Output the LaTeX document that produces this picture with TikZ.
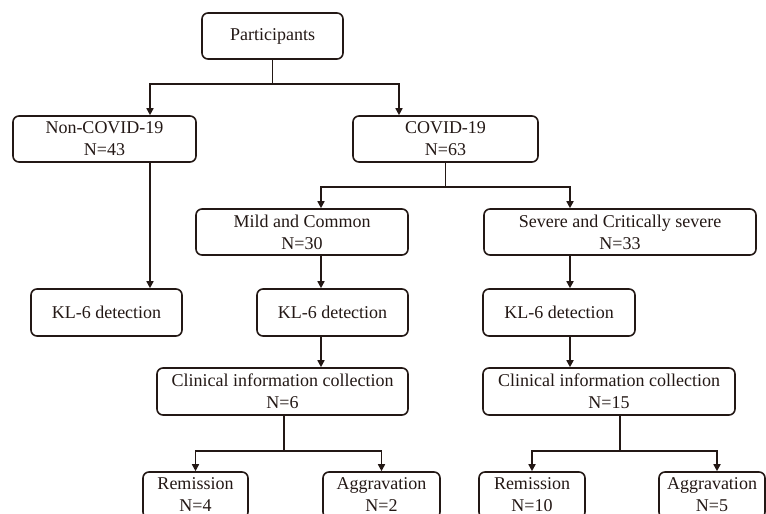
\documentclass[tikz,border=0pt]{standalone}
\usepackage{fontspec}
\setmainfont{Liberation Serif}
\usetikzlibrary{arrows.meta,positioning,calc}
\definecolor{ink}{RGB}{35,24,21}
\tikzset{
  box/.style={draw=ink, line width=1.6pt, rounded corners=6pt, fill=white,
    align=center, inner sep=0pt, minimum height=46pt, text=ink,
    font=\fontsize{18}{22}\selectfont},
  conn/.style={draw=ink, line width=1.6pt},
  arr/.style={conn, -{Triangle[length=7pt,width=7pt]}},
}
\begin{document}
\begin{tikzpicture}[x=1pt,y=-1pt]
\useasboundingbox (0,0) rectangle (766,514);
% nodes
\node[box, minimum width=141pt] (part) at (272.5,36) {Participants};
\node[box, minimum width=183pt] (noncov) at (104.5,139) {Non-COVID-19\\N=43};
\node[box, minimum width=185pt] (cov) at (445.5,139) {COVID-19\\N=63};
\node[box, minimum width=212pt] (mild) at (302,232) {Mild and Common\\N=30};
\node[box, minimum width=272pt] (severe) at (620,232) {Severe and Critically severe\\N=33};
\node[box, minimum width=151pt, minimum height=47pt] (kla) at (106.5,312.5) {KL-6 detection};
\node[box, minimum width=151pt, minimum height=47pt] (klb) at (332.5,312.5) {KL-6 detection};
\node[box, minimum width=152pt, minimum height=47pt] (klc) at (559,312.5) {KL-6 detection};
\node[box, minimum width=251pt, minimum height=47pt] (clina) at (282.5,391.5) {Clinical information collection\\N=6};
\node[box, minimum width=252pt, minimum height=47pt] (clinb) at (609,391.5) {Clinical information collection\\N=15};
\node[box, minimum width=105pt] (rema) at (195.5,495) {Remission\\N=4};
\node[box, minimum width=117pt] (agga) at (381.5,495) {Aggravation\\N=2};
\node[box, minimum width=106pt] (remb) at (532,495) {Remission\\N=10};
\node[box, minimum width=106pt] (aggb) at (712,495) {Aggravation\\N=5};
% junctions
\coordinate (j1) at ($(part.south)+(0,24)$);
\coordinate (j2) at ($(cov.south)+(0,24)$);
\coordinate (j3) at ($(clina.south)+(1.5,35)$);
\coordinate (j4) at ($(clinb.south)+(11,35)$);
\coordinate (a1) at ([xshift=45.5]noncov.south);
\coordinate (a2) at ([xshift=19]mild.south);
\coordinate (a3) at ([xshift=-50]severe.south);
% connectors
\draw[conn] (part.south) -- (j1);
\draw[arr] (j1) -| ([xshift=45.5]noncov.north);
\draw[arr] (j1) -| ([xshift=-46.5]cov.north);
\draw[arr] (a1) -- (a1 |- kla.north);
\draw[conn] (cov.south) -- (j2);
\draw[arr] (j2) -| (a2 |- mild.north);
\draw[arr] (j2) -| (a3 |- severe.north);
\draw[arr] (a2) -- (a2 |- klb.north);
\draw[arr] (a2 |- klb.south) -- (a2 |- clina.north);
\draw[arr] (a3) -- (a3 |- klc.north);
\draw[arr] (a3 |- klc.south) -- (a3 |- clinb.north);
\draw[conn] (j3 |- clina.south) -- (j3);
\draw[arr] (j3) -| (rema.north);
\draw[arr] (j3) -| (agga.north);
\draw[conn] (j4 |- clinb.south) -- (j4);
\draw[arr] (j4) -| (remb.north);
\draw[arr] (j4) -| ([xshift=5]aggb.north);
\end{tikzpicture}
\end{document}
